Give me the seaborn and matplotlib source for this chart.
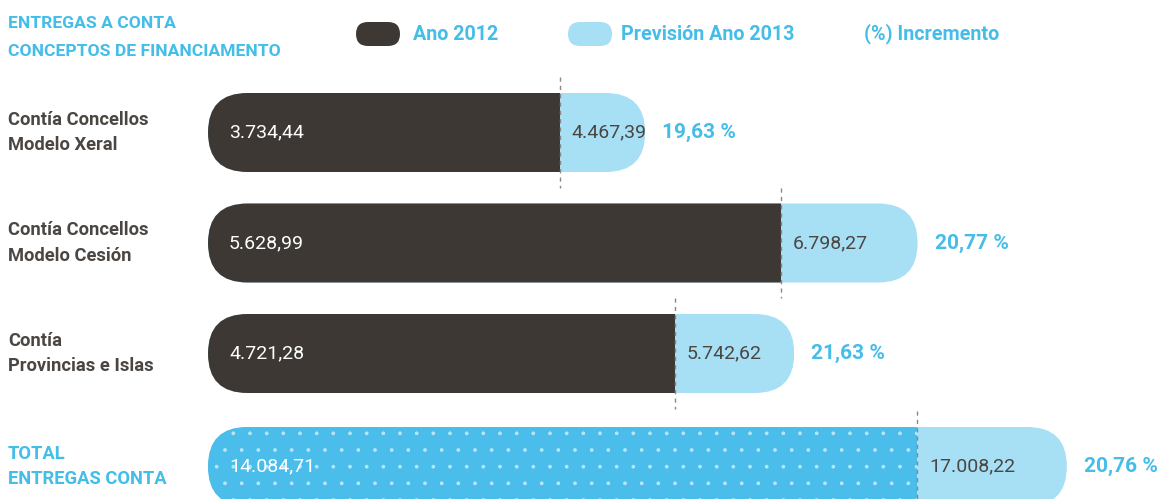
import matplotlib
matplotlib.use("Agg")
import matplotlib.pyplot as plt
from matplotlib.patches import FancyBboxPatch
from matplotlib.transforms import IdentityTransform, blended_transform_factory
import seaborn as sns
import pandas as pd

# data
categories = ["Contía Concellos\nModelo Xeral",
              "Contía Concellos\nModelo Cesión",
              "Contía\nProvincias e Islas"]
ano_2012 = [3734.44, 5628.99, 4721.28]
ano_2013 = [4467.39, 6798.27, 5742.62]
incremento = [19.63, 20.77, 21.63]

total_label = "TOTAL\nENTREGAS CONTA"
total_2012 = [14084.71]
total_2013 = [17008.22]
total_incremento = [20.76]

DARK = "#3d3833"
LIGHT = "#a7dff5"
BLUE = "#4abdea"
BLUE_TXT = "#45bde9"
GRAY_TXT = "#4b4642"
DASH = "#8c8782"

sns.set_style("white")
plt.rcParams["font.family"] = ["Roboto", "DejaVu Sans"]
plt.rcParams["hatch.linewidth"] = 0.25

W, H = 1164, 499
fig = plt.figure(figsize=(W / 100, H / 100), dpi=100)


def fx(x):
    return x / W


def fy(y):
    return 1 - y / H


BAR_W = 0.715
# main axes: three rows, 110.5 px per row, starting at 77 px from top
ax = fig.add_axes([fx(208), fy(408.75), 1 - fx(208), 331.5 / H])
# total row on its own scale
axt = fig.add_axes([fx(208), fy(521.75), 1 - fx(208), 110.5 / H])

df = pd.DataFrame({"cat": categories, "a2012": ano_2012, "a2013": ano_2013})
dft = pd.DataFrame({"cat": [total_label], "a2012": total_2012, "a2013": total_2013})

sns.barplot(data=df, y="cat", x="a2013", color=LIGHT, saturation=1, width=BAR_W,
            linewidth=0, orient="h", ax=ax)
sns.barplot(data=df, y="cat", x="a2012", color=DARK, saturation=1, width=BAR_W,
            linewidth=0, orient="h", ax=ax)
sns.barplot(data=dft, y="cat", x="a2013", color=LIGHT, saturation=1, width=BAR_W,
            linewidth=0, orient="h", ax=axt)
sns.barplot(data=dft, y="cat", x="a2012", color=BLUE, saturation=1, width=BAR_W,
            linewidth=0, orient="h", ax=axt)

ax.set_xlim(726, 8907)
ax.set_ylim(2.5, -0.5)
axt.set_xlim(267, 18902)
axt.set_ylim(0.5, -0.5)

# dotted texture on the total bar
for bar in axt.patches[1:]:
    bar.set_hatch(".")
    bar.set_edgecolor((1, 1, 1, 0.6))
    if hasattr(bar, "set_hatchcolor"):
        bar.set_hatchcolor((1, 1, 1, 0.6))


def pill_clip(a, vals13):
    # clip every bar of the row to a rounded pill ending at the 2013 value
    for bar in a.patches:
        pos = round(bar.get_y() + bar.get_height() / 2)
        x0 = a.transAxes.transform((0, 0))[0]
        x1 = a.transData.transform((vals13[pos], pos))[0]
        ya = a.transData.transform((0, pos - BAR_W / 2))[1]
        yb = a.transData.transform((0, pos + BAR_W / 2))[1]
        y0, h = min(ya, yb), abs(ya - yb)
        pill = FancyBboxPatch((x0, y0), x1 - x0, h,
                              boxstyle=f"round,pad=0,rounding_size={h / 2}",
                              transform=IdentityTransform())
        bar.set_clip_path(pill)


pill_clip(ax, ano_2013)
pill_clip(axt, total_2013)


def fmt(v):
    s = f"{v:,.2f}"
    return s.replace(",", "X").replace(".", ",").replace("X", ".")


def annotate_rows(a, v12, v13, pct, labels, label_color):
    n = len(v12)
    a.vlines(v12, [p - 0.5 for p in range(n)], [p + 0.5 for p in range(n)],
             colors=DASH, linestyles=(0, (3, 3)), linewidth=1, zorder=5, clip_on=False)
    tr = blended_transform_factory(fig.transFigure, a.transData)
    for p in range(n):
        a.annotate(fmt(v12[p]), xy=(0, p), xycoords=("axes fraction", "data"),
                   xytext=(21, 0), textcoords="offset pixels", va="center",
                   color="white", fontsize=14, zorder=6)
        a.annotate(fmt(v13[p]), xy=(v12[p], p), xytext=(12, 0),
                   textcoords="offset pixels", va="center", color=GRAY_TXT,
                   fontsize=14)
        a.annotate(f"{pct[p]:.2f} %".replace(".", ","), xy=(v13[p], p), xytext=(17, 0),
                   textcoords="offset pixels", va="center", color=BLUE_TXT,
                   fontsize=15, fontweight="bold")
        a.text(fx(8), p, labels[p], transform=tr, va="center", ha="left",
               color=label_color, fontsize=13.2, fontweight="bold", linespacing=1.55)


annotate_rows(ax, ano_2012, ano_2013, incremento, categories, GRAY_TXT)
annotate_rows(axt, total_2012, total_2013, total_incremento, [total_label], BLUE_TXT)

for a in (ax, axt):
    a.set_axis_off()

# header and legend
fig.text(fx(8), fy(23), "ENTREGAS A CONTA", color=BLUE_TXT, fontsize=12.6,
         fontweight="bold", va="center")
fig.text(fx(8), fy(52), "CONCEPTOS DE FINANCIAMENTO", color=BLUE_TXT, fontsize=12.6,
         fontweight="bold", va="center")
for x, c in ((356, DARK), (568, LIGHT)):
    fig.patches.append(FancyBboxPatch((x, H - 46), 44, 24,
                                      boxstyle="round,pad=0,rounding_size=12",
                                      facecolor=c, edgecolor="none",
                                      transform=IdentityTransform(), figure=fig))
for x, s in ((413, "Ano 2012"), (621, "Previsión Ano 2013"), (864, "(%) Incremento")):
    fig.text(fx(x), fy(34), s, color=BLUE_TXT, fontsize=14.2, fontweight="bold",
             va="center")

fig.savefig("out.png", dpi=100)
